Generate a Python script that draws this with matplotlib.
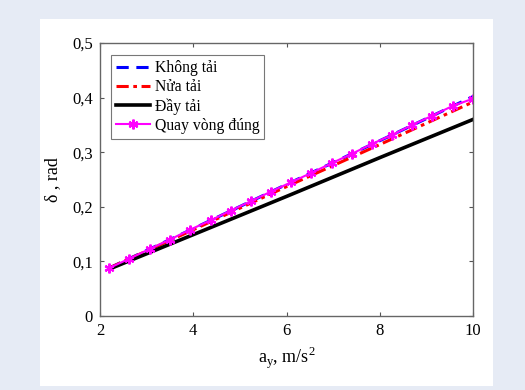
import matplotlib
matplotlib.use("Agg")
import matplotlib.pyplot as plt
from matplotlib.patches import Rectangle
from matplotlib.ticker import FuncFormatter

plt.rcParams['font.family'] = ['Liberation Serif', 'DejaVu Serif']

# data
x_line = [2.2, 4.0, 6.0, 8.0, 10.0]
khong_tai = [0.088, 0.160, 0.241, 0.321, 0.402]
nua_tai = [0.088, 0.158, 0.237, 0.314, 0.392]
day_tai = [0.086, 0.149, 0.219, 0.290, 0.360]

x_qv = [2.2, 2.63, 3.07, 3.5, 3.93, 4.37, 4.8, 5.23, 5.67, 6.1, 6.53,
        6.97, 7.4, 7.83, 8.27, 8.7, 9.13, 9.57, 10.0]
quay_vong = [0.088, 0.105, 0.123, 0.140, 0.158, 0.175, 0.193, 0.210, 0.228,
             0.245, 0.262, 0.280, 0.297, 0.315, 0.332, 0.350, 0.367, 0.385, 0.398]

fig = plt.figure(figsize=(5.25, 3.9), dpi=100)
fig.patch.set_facecolor('#e6ebf5')
# white panel behind the chart
fig.patches.append(Rectangle((40 / 525, 1 - 386 / 390), 453 / 525, 367 / 390,
                             transform=fig.transFigure, facecolor='white',
                             edgecolor='none', zorder=-10))

ax = fig.add_axes([100 / 525, 1 - 316 / 390, 373 / 525, 273 / 390])
ax.set_zorder(5)

ax.plot(x_line, khong_tai, color='#0000ff', lw=2.2, ls=(0, (4, 2.5)), label='Không tải')
ax.plot(x_line, nua_tai, color='#ff0000', lw=2.2, ls=(0, (4, 1.5, 1.2, 1.5)), label='Nửa tải')
ax.plot(x_line, day_tai, color='black', lw=2.6, label='Đầy tải')
ax.plot(x_qv, quay_vong, color='#ff00ff', lw=1.5, marker=(6, 2, 0), ms=7, mew=1.6,
        label='Quay vòng đúng')

ax.set_xlim(2, 10)
ax.set_ylim(0, 0.5)
ax.set_xticks([2, 4, 6, 8, 10])
ax.set_yticks([0, 0.1, 0.2, 0.3, 0.4, 0.5])
ax.yaxis.set_major_formatter(FuncFormatter(lambda v, p: ('%g' % round(v, 2)).replace('.', ',')))
ax.tick_params(direction='in', top=True, right=True, length=3, labelsize=12,
               color='#555555', pad=5)
for s in ax.spines.values():
    s.set_color('#666666')
    s.set_linewidth(1.0)

ax.set_xlabel('a$_\\mathregular{y}$, m/s$^\\mathregular{2}$', fontsize=13, labelpad=4)
ax.set_ylabel('δ , rad', fontsize=13, labelpad=8)

leg = ax.legend(loc='upper left', bbox_to_anchor=(0.03, 0.955), fontsize=11.3,
                frameon=True, fancybox=False, edgecolor='#555555',
                handlelength=2.2, handletextpad=0.3, borderpad=0.3,
                labelspacing=0.2, borderaxespad=0)
leg.get_frame().set_linewidth(0.8)

fig.savefig('out.png', dpi=100, facecolor=fig.get_facecolor())
